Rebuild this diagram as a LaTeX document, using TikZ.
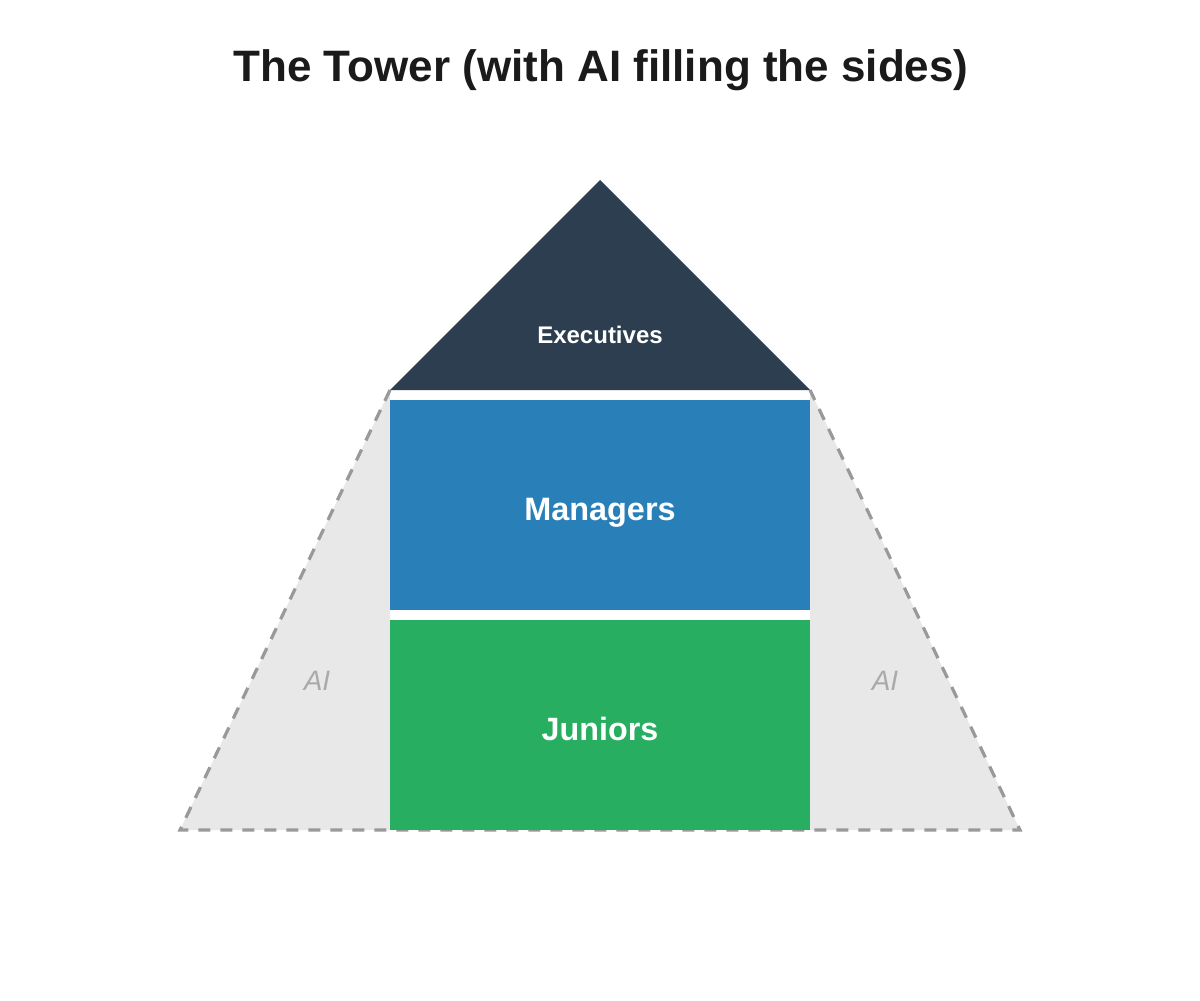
\documentclass[tikz,border=0pt]{standalone}
\usepackage{fontspec}
\setmainfont{Liberation Sans}
\definecolor{execc}{HTML}{2C3E50}
\definecolor{mgrc}{HTML}{2980B9}
\definecolor{junc}{HTML}{27AE60}
\definecolor{aifill}{HTML}{E8E8E8}
\definecolor{ailine}{HTML}{999999}
\definecolor{aitext}{HTML}{AAAAAA}
\definecolor{titlec}{HTML}{1A1A1A}
\begin{document}
\begin{tikzpicture}[x=0.75pt,y=-0.75pt,
  lbl/.style={text=white,inner sep=0pt,anchor=base},
  ailbl/.style={text=aitext,font=\itshape\fontsize{21}{24}\selectfont,inner sep=0pt,anchor=base},
  aiedge/.style={draw=ailine,line width=2.4pt,dash pattern=on 9pt off 7.5pt}]
\useasboundingbox (0,0) rectangle (1200,1000);
\fill[white] (0,0) rectangle (1200,1000);
\node[inner sep=0pt,anchor=base,text=titlec,font=\bfseries\fontsize{33}{40}\selectfont] (title) at (601,81) {The Tower (with AI filling the sides)};
\fill[aifill] (180,830) -- (390,390) -- (390,830) -- cycle;
\fill[aifill] (1020,830) -- (810,390) -- (810,830) -- cycle;
\coordinate (tl) at (390,390);
\coordinate (bl) at (180,830);
\coordinate (br) at (1020,830);
\coordinate (tr) at (810,390);
\draw[aiedge] (tl) -- (bl) -- (br) -- (tr);
\fill[execc] (390,390) -- (600,180) -- (810,390) -- cycle;
\fill[mgrc] (390,400) rectangle (810,610);
\fill[junc] (390,620) rectangle (810,829.5);
\node[lbl,font=\bfseries\fontsize{18}{22}\selectfont] (exec) at (600,343) {Executives};
\node[lbl,font=\bfseries\fontsize{24.3}{28}\selectfont] (mgr) at (600,520) {Managers};
\node[lbl,font=\bfseries\fontsize{24.2}{28}\selectfont] (jun) at (600,740) {Juniors};
\node[ailbl] (ail) at (317,690) {AI};
\node[ailbl] (air) at (885,690) {AI};
\end{tikzpicture}
\end{document}
